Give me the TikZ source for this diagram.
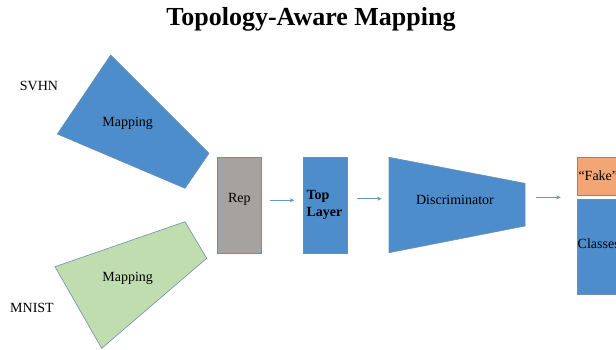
\documentclass[tikz,border=0pt]{standalone}
\usepackage{fontspec}
\setmainfont{Liberation Serif}
\usetikzlibrary{arrows.meta}
\definecolor{boxblue}{HTML}{4E8DCB}
\definecolor{edgeblue}{HTML}{6E8EB0}
\definecolor{repgray}{HTML}{A6A2A0}
\definecolor{mapgreen}{HTML}{BFDDAE}
\definecolor{fakeorange}{HTML}{F2A676}
\definecolor{arrowblue}{HTML}{5B9BD5}
\tikzset{
  shapefill/.style={draw=edgeblue, line width=0.6pt},
  lbl/.style={font=\fontsize{14}{16.5}\selectfont, inner sep=0pt},
  flow/.style={draw=arrowblue, line width=0.6pt, -{Stealth[length=4.5pt,width=4pt]}}
}
\begin{document}
\begin{tikzpicture}[x=1pt,y=-1pt]
\useasboundingbox (0,0) rectangle (616,350);
\fill[white] (0,0) rectangle (616,350);
\clip (0,0) rectangle (616,350);
% title
\node[font=\fontsize{26}{30}\selectfont\bfseries, inner sep=0pt] (title) at (311,19) {Topology-Aware Mapping};
% mapping shapes
\coordinate (s1) at (110.7,55);
\coordinate (s2) at (57.3,134);
\coordinate (s3) at (185,188.3);
\coordinate (s4) at (209,153.3);
\filldraw[shapefill, fill=boxblue] (s1) -- (s2) -- (s3) -- (s4) -- cycle;
\coordinate (m1) at (185,221.7);
\coordinate (m2) at (206.7,258.3);
\coordinate (m3) at (101.7,348.3);
\coordinate (m4) at (55,266.7);
\filldraw[shapefill, fill=mapgreen] (m1) -- (m2) -- (m3) -- (m4) -- cycle;
\node[lbl] (svhnmap) at (127.7,123.3) {Mapping};
\node[lbl] (mnistmap) at (127.7,278.3) {Mapping};
\node[lbl] (svhn) at (39,85.7) {SVHN};
\node[lbl] (mnist) at (32,308.3) {MNIST};
% rep
\node[shapefill, fill=repgray, minimum width=43.7pt, minimum height=96pt, anchor=north west, inner sep=0pt] (rep) at (217.3,156.7) {};
\node[lbl] (reptext) at (239.3,199) {Rep};
% top layer
\node[shapefill, fill=boxblue, minimum width=43.4pt, minimum height=96pt, anchor=north west, inner sep=0pt] (top) at (303.3,156.7) {};
\node[lbl, font=\fontsize{14}{16.6}\selectfont\bfseries, align=left, anchor=west] (toptext) at (306.3,205) {Top\\Layer};
% discriminator
\coordinate (d1) at (389,157.3);
\coordinate (d2) at (525,183.3);
\coordinate (d3) at (525,226);
\coordinate (d4) at (389,252.7);
\filldraw[shapefill, fill=boxblue] (d1) -- (d2) -- (d3) -- (d4) -- cycle;
\node[lbl] (disc) at (455,200) {Discriminator};
\coordinate (dleft) at (389,198.7);
\coordinate (dright) at (525,197.3);
% outputs
\node[shapefill, fill=fakeorange, minimum width=60pt, minimum height=38.3pt, anchor=north west, inner sep=0pt] (fake) at (576.7,156.7) {};
\node[shapefill, fill=boxblue, minimum width=60pt, minimum height=95pt, anchor=north west, inner sep=0pt] (classes) at (576.7,199) {};
\node[lbl, anchor=west] (faketext) at (578.3,176) {“Fake”};
\node[lbl, anchor=west] (classestext) at (577.5,243.5) {Classes};
\coordinate (outleft) at (576.7,197.3);
% connectors
\draw[flow, shorten <=8pt, shorten >=9pt] (rep.east |- 0,200.3) -- (top.west |- 0,200.3);
\draw[flow, shorten <=10pt, shorten >=7.3pt] (top.east |- 0,198.7) -- (dleft);
\draw[flow, shorten <=11pt, shorten >=16pt] (dright) -- (outleft);
\end{tikzpicture}
\end{document}
